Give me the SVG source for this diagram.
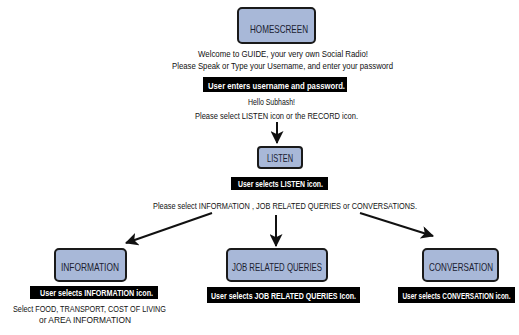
<svg xmlns="http://www.w3.org/2000/svg" width="519" height="335" viewBox="0 0 519 335">
  <defs>
    <marker id="head" viewBox="0 0 12 12" refX="11" refY="6" markerWidth="13" markerHeight="13" markerUnits="userSpaceOnUse" orient="auto">
      <path d="M0,0 L12,6 L0,12 L3,6 Z" fill="#111"/>
    </marker>
    <style>
      .box { fill: #a8b8d8; stroke: #1a1a1a; stroke-width: 2; }
      .tag { fill: #000; }
      .lbl { font-family: "Liberation Sans Narrow", "Liberation Sans", sans-serif; font-size: 10.5px; fill: #1a2030; text-anchor: middle; }
      .tagtxt { font-family: "Liberation Sans Narrow", "Liberation Sans", sans-serif; font-size: 9.5px; font-weight: bold; fill: #fff; text-anchor: middle; }
      .note { font-family: "Liberation Sans Narrow", "Liberation Sans", sans-serif; font-size: 9.5px; fill: #111; text-anchor: middle; }
      .link { stroke: #111; stroke-width: 2; fill: none; marker-end: url(#head); }
    </style>
  </defs>
  <rect width="519" height="335" fill="#fff"/>

  <g id="homescreen">
    <rect class="box" x="238" y="8" width="77" height="35" rx="4"/>
    <text class="lbl" x="279" y="33" textLength="58" lengthAdjust="spacingAndGlyphs">HOMESCREEN</text>
    <text class="note" x="283" y="57" textLength="170" lengthAdjust="spacingAndGlyphs">Welcome to GUIDE, your very own Social Radio!</text>
    <text class="note" x="282.5" y="69" textLength="221" lengthAdjust="spacingAndGlyphs">Please Speak or Type your Username, and enter your password</text>
    <rect class="tag" x="203" y="77" width="144" height="15"/>
    <text class="tagtxt" x="276.5" y="88.5" textLength="137" lengthAdjust="spacingAndGlyphs">User enters username and password.</text>
    <text class="note" x="271.5" y="105" textLength="47" lengthAdjust="spacingAndGlyphs">Hello Subhash!</text>
    <text class="note" x="276.5" y="119" textLength="163" lengthAdjust="spacingAndGlyphs">Please select LISTEN icon or the RECORD icon.</text>
  </g>

  <g id="listen">
    <rect class="box" x="258" y="147" width="44" height="21" rx="3"/>
    <text class="lbl" x="280" y="162" textLength="26" lengthAdjust="spacingAndGlyphs">LISTEN</text>
    <rect class="tag" x="231" y="177" width="97" height="13"/>
    <text class="tagtxt" x="280.5" y="187" textLength="85" lengthAdjust="spacingAndGlyphs">User selects LISTEN icon.</text>
    <text class="note" x="285" y="209" textLength="264" lengthAdjust="spacingAndGlyphs">Please select INFORMATION , JOB RELATED QUERIES or CONVERSATIONS.</text>
  </g>

  <g id="information">
    <rect class="box" x="55" y="249" width="71" height="32" rx="4"/>
    <text class="lbl" x="90" y="271" textLength="58" lengthAdjust="spacingAndGlyphs">INFORMATION</text>
    <rect class="tag" x="30" y="286" width="128" height="13"/>
    <text class="tagtxt" x="96.5" y="296" textLength="113" lengthAdjust="spacingAndGlyphs">User selects INFORMATION icon.</text>
    <text class="note" x="89.5" y="312" textLength="153" lengthAdjust="spacingAndGlyphs">Select FOOD, TRANSPORT, COST OF LIVING</text>
    <text class="note" x="85" y="323" textLength="92" lengthAdjust="spacingAndGlyphs">or AREA INFORMATION</text>
  </g>

  <g id="job-related-queries">
    <rect class="box" x="227" y="249" width="100" height="32" rx="4"/>
    <text class="lbl" x="277" y="271" textLength="90" lengthAdjust="spacingAndGlyphs">JOB RELATED QUERIES</text>
    <rect class="tag" x="207" y="287" width="153" height="16"/>
    <text class="tagtxt" x="283.5" y="299" textLength="145" lengthAdjust="spacingAndGlyphs">User selects JOB RELATED QUERIES Icon.</text>
  </g>

  <g id="conversation">
    <rect class="box" x="423" y="249" width="75" height="32" rx="4"/>
    <text class="lbl" x="461" y="271" textLength="64" lengthAdjust="spacingAndGlyphs">CONVERSATION</text>
    <rect class="tag" x="398" y="287" width="117" height="16"/>
    <!-- condensed horizontally so the label stays inside the right edge -->
    <text class="tagtxt" transform="translate(456.5 299) scale(0.68 1)" x="0" y="0">User selects CONVERSATION icon.</text>
  </g>

  <g id="connectors">
    <line class="link" x1="277" y1="122" x2="277" y2="143"/>
    <line class="link" x1="212" y1="213" x2="126" y2="243"/>
    <line class="link" x1="276" y1="215" x2="276" y2="246"/>
    <line class="link" x1="360" y1="213" x2="433" y2="236"/>
  </g>
</svg>
